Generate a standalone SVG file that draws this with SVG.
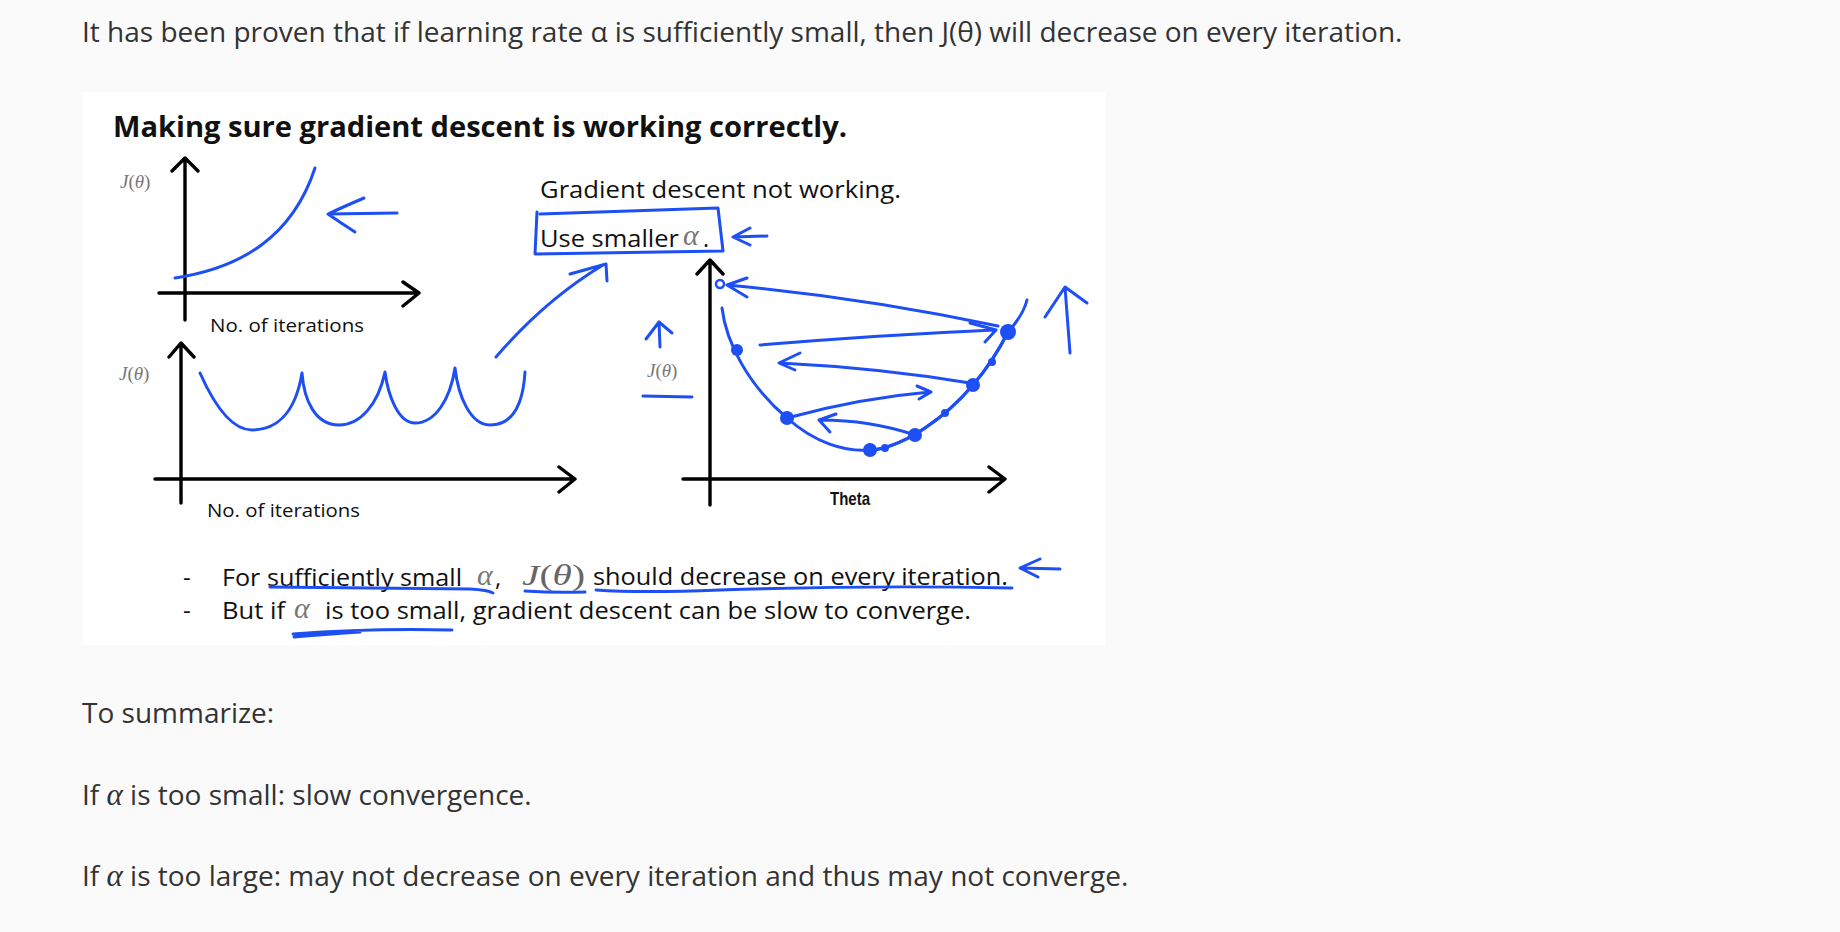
<svg xmlns="http://www.w3.org/2000/svg" width="1840" height="932" viewBox="0 0 1840 932">
<style>
.web{font-family:"Open Sans","Noto Sans",sans-serif;font-size:28px;fill:#333}
.math{font-family:"Liberation Serif",serif;font-style:italic}
.sl{font-family:"Open Sans","Noto Sans",sans-serif;fill:#111}
.ax{fill:none;stroke:#000;stroke-width:3.4;stroke-linecap:round;stroke-linejoin:round}
.bl{fill:none;stroke:#1d4ff5;stroke-width:3;stroke-linecap:round;stroke-linejoin:round}
.dot{fill:#1d4ff5}
.lab{font-family:"Liberation Serif",serif;font-size:19px;fill:#777}
</style>
<rect width="1840" height="932" fill="#fafafa"/>
<g id="intro">
<text class="web" x="82" y="42">It has been proven that if learning rate α is sufficiently small, then J(θ) will decrease on every iteration.</text>
</g>
<g id="slide">
<rect x="82" y="92" width="1023" height="553" fill="#ffffff"/>
<text class="sl" x="113" y="137" font-size="28" font-weight="bold" fill="#000" textLength="734" lengthAdjust="spacingAndGlyphs">Making sure gradient descent is working correctly.</text>
</g>
<g id="plot1">
<path class="ax" d="M185,320 L185,159 M172,171 L185,158 L198,171 M159,293 L418,293 M403,282 L419,293 L403,306"/>
<text class="lab" x="120" y="188"><tspan font-style="italic">J</tspan>(<tspan font-style="italic">θ</tspan>)</text>
<text class="sl" x="210" y="332" font-size="19" textLength="154" lengthAdjust="spacingAndGlyphs">No. of iterations</text>
<path class="bl" d="M175,278 C240,268 292,238 315,168"/>
<path class="bl" d="M397,213 L328,214 M364,198 Q343,207 328,214 Q341,223 355,232"/>
</g>
<g id="plot2">
<path class="ax" d="M181,503 L181,344 M169,357 L181,343 L194,357 M155,479 L574,479 M559,467 L575,479 L559,492"/>
<text class="lab" x="119" y="380"><tspan font-style="italic">J</tspan>(<tspan font-style="italic">θ</tspan>)</text>
<text class="sl" x="207" y="517" font-size="19" textLength="153" lengthAdjust="spacingAndGlyphs">No. of iterations</text>
<path class="bl" d="M200,373 C212,400 230,430 252,430 C275,430 295,415 302,373 C304,400 315,425 339,425 C360,425 378,405 385,372 C388,395 398,423 415,423 C435,423 450,400 455,368 C458,395 470,425 490,425 C512,425 523,405 525,372"/>
<path class="bl" d="M496,357 Q545,300 603,265 M570,274 L606,264 L607,281"/>
</g>
<g id="note">
<text class="sl" x="540" y="198" font-size="23" textLength="361" lengthAdjust="spacingAndGlyphs">Gradient descent not working.</text>
<text class="sl" x="540" y="247" font-size="23" textLength="139" lengthAdjust="spacingAndGlyphs">Use smaller</text>
<text class="math" x="683" y="245" font-size="30" fill="#777">α</text>
<text class="sl" x="703" y="247" font-size="23">.</text>
<path class="bl" d="M540,214 L718,208 L723,251 L535,254 L537,212"/>
<path class="bl" d="M767,236 L733,237 M750,228 L733,237 L750,245"/>
</g>
<g id="plot3">
<path class="ax" d="M710,505 L710,262 M697,274 L710,260 L723,274 M683,479 L1004,479 M989,467 L1005,479 L989,492"/>
<text class="lab" x="647" y="377"><tspan font-style="italic">J</tspan>(<tspan font-style="italic">θ</tspan>)</text>
<path class="bl" d="M643,396 L692,397 M660,347 L659,322 M646,339 L659,322 L672,333"/>
<text x="830" y="505" font-family="Liberation Sans, sans-serif" font-size="19" font-weight="bold" fill="#111" textLength="40" lengthAdjust="spacingAndGlyphs">Theta</text>
<path class="bl" stroke-width="2.6" d="M722,308 C726,342 748,385 787,418 C815,443 845,452 870,450 C905,447 945,418 973,385 C990,365 1000,348 1008,332 C1017,322 1024,312 1027,300"/>
<path class="bl" stroke-width="4.5" d="M875,450 C905,445 945,418 973,385 C990,365 1000,348 1008,332"/>
<circle class="dot" cx="737" cy="350" r="6"/>
<circle class="dot" cx="787" cy="418" r="7"/>
<circle class="dot" cx="870" cy="450" r="7"/>
<circle class="dot" cx="915" cy="435" r="7"/>
<circle class="dot" cx="973" cy="385" r="7"/>
<circle class="dot" cx="1008" cy="332" r="8"/>
<circle class="dot" cx="992" cy="362" r="4"/>
<circle class="dot" cx="945" cy="413" r="4"/>
<circle class="dot" cx="885" cy="448" r="4"/>
<circle cx="720" cy="284" r="4" fill="none" stroke="#1d4ff5" stroke-width="2.5"/>
<path class="bl" d="M998,326 Q860,297 727,285 M747,278 L727,285 L747,297"/>
<path class="bl" d="M760,345 Q880,335 995,330 M970,323 L996,330 L985,342"/>
<path class="bl" d="M970,383 Q880,368 780,363 M800,353 L779,363 L795,370"/>
<path class="bl" d="M787,418 Q860,398 930,392 M917,386 L931,392 L919,399"/>
<path class="bl" d="M915,435 Q870,420 820,420 M836,414 L819,420 L830,432"/>
<path class="bl" d="M1070,353 L1065,287 M1045,317 L1065,287 L1087,303"/>
</g>
<g id="bullets">
<text class="sl" x="183" y="586" font-size="24">-</text>
<text class="sl" x="183" y="619" font-size="24">-</text>
<text class="sl" x="222" y="586" font-size="24" textLength="240" lengthAdjust="spacingAndGlyphs">For sufficiently small</text>
<text class="math" x="477" y="585" font-size="30" fill="#777">α</text>
<text class="sl" x="495" y="586" font-size="24">,</text>
<text x="522" y="585" font-family="Liberation Serif, serif" font-size="30" fill="#666" textLength="63" lengthAdjust="spacingAndGlyphs"><tspan font-style="italic">J</tspan>(<tspan font-style="italic">θ</tspan>)</text>
<text class="sl" x="593" y="585" font-size="24" textLength="415" lengthAdjust="spacingAndGlyphs">should decrease on every iteration.</text>
<text class="sl" x="222" y="619" font-size="24" textLength="63" lengthAdjust="spacingAndGlyphs">But if</text>
<text class="math" x="294" y="618" font-size="30" fill="#777">α</text>
<text class="sl" x="325" y="619" font-size="24" textLength="646" lengthAdjust="spacingAndGlyphs">is too small, gradient descent can be slow to converge.</text>
<path class="bl" stroke-width="2.5" d="M270,587 Q380,588 470,589 Q488,590 493,593"/>
<path class="bl" stroke-width="2.5" d="M525,591 Q555,593 585,592"/>
<path class="bl" stroke-width="2.5" d="M596,590 Q640,593 720,590 Q870,585 1012,588"/>
<path class="bl" stroke-width="2.5" d="M293,634 Q370,628 452,630 M294,637 Q330,634 360,632"/>
<path class="bl" d="M1060,569 L1020,568 M1040,559 L1020,568 L1038,577"/>
</g>
<g id="summary">
<text class="web" x="82" y="723">To summarize:</text>
<text class="web" x="82" y="805">If <tspan class="math" fill="#333" font-size="31">α</tspan> is too small: slow convergence.</text>
<text class="web" x="82" y="886">If <tspan class="math" fill="#333" font-size="31">α</tspan> is too large: may not decrease on every iteration and thus may not converge.</text>
</g>
</svg>
